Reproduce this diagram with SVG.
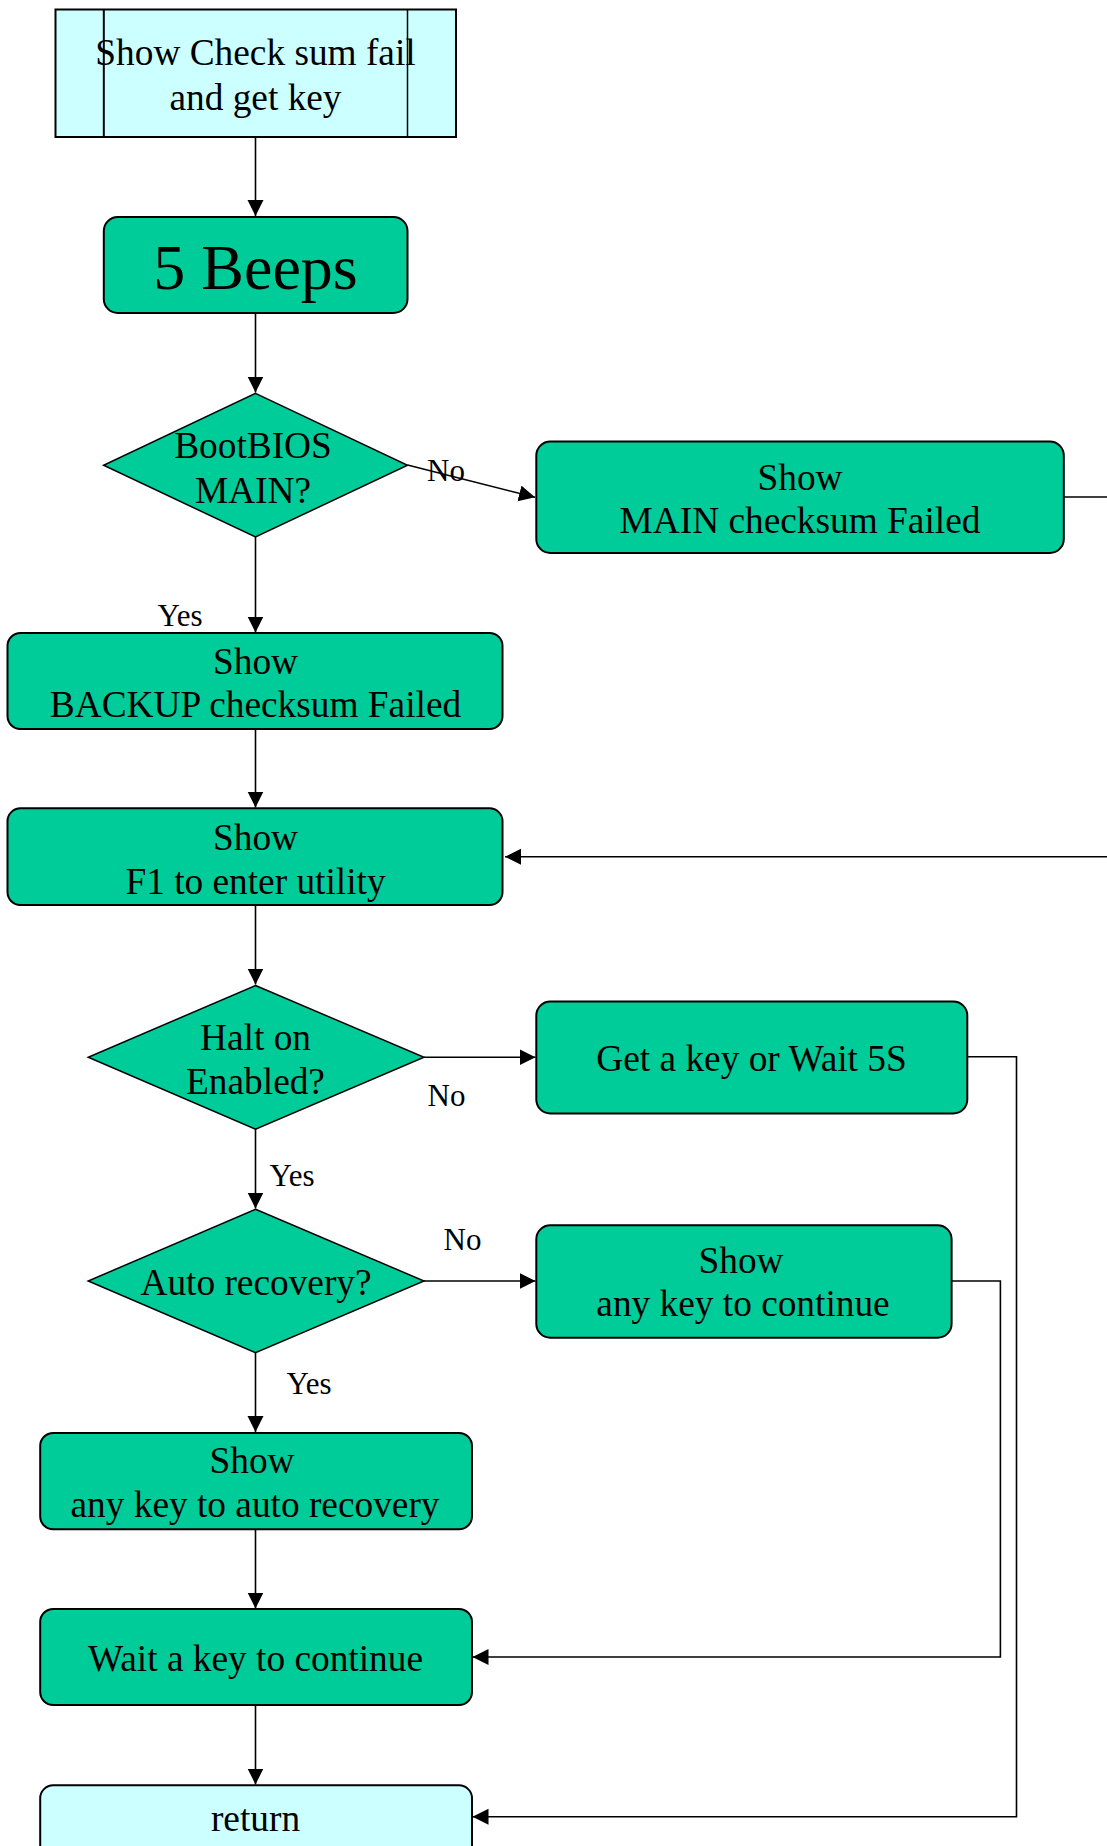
<svg xmlns="http://www.w3.org/2000/svg" width="1107" height="1846" viewBox="0 0 1107 1846">
<style>
.bg{fill:#ffffff}
.proc{fill:#00CC99;stroke:#000;stroke-width:2}
.term{fill:#CCFFFF;stroke:#000;stroke-width:2}
.dec{fill:#00CC99;stroke:#000;stroke-width:1.5}
.t{font-family:"Liberation Serif","Times New Roman",serif;font-size:37.33px;fill:#000;text-anchor:middle}
.big{font-size:64px}
.lbl{font-family:"Liberation Serif","Times New Roman",serif;font-size:31px;fill:#000;text-anchor:middle}
.c{fill:none;stroke:#000;stroke-width:1.6}
</style>
<defs>
<marker id="ah" markerUnits="userSpaceOnUse" markerWidth="17" markerHeight="17" refX="16" refY="8" orient="auto">
<path d="M0,0 L16,8 L0,16 z" fill="#000"/>
</marker>
</defs>
<rect class="bg" x="0" y="0" width="1107" height="1846"/>

<g id="connectors">
<path class="c" d="M255.5,137 V216" marker-end="url(#ah)"/>
<path class="c" d="M255.5,313 V392.5" marker-end="url(#ah)"/>
<path class="c" d="M407.5,465 L535,497.3" marker-end="url(#ah)"/>
<path class="c" d="M1064,497 H1130 V856.7 H505" marker-end="url(#ah)"/>
<path class="c" d="M255.5,537 V632.5" marker-end="url(#ah)"/>
<path class="c" d="M255.5,729 V807.5" marker-end="url(#ah)"/>
<path class="c" d="M255.5,905 V984.5" marker-end="url(#ah)"/>
<path class="c" d="M424,1057.3 H535.5" marker-end="url(#ah)"/>
<path class="c" d="M967.3,1056.7 H1016.5 V1816.7 H472.5" marker-end="url(#ah)"/>
<path class="c" d="M255.5,1129 V1208.5" marker-end="url(#ah)"/>
<path class="c" d="M424,1281 H535.5" marker-end="url(#ah)"/>
<path class="c" d="M951.6,1281 H1000.4 V1657 H472.5" marker-end="url(#ah)"/>
<path class="c" d="M255.5,1352.7 V1432" marker-end="url(#ah)"/>
<path class="c" d="M255.5,1529.3 V1608.5" marker-end="url(#ah)"/>
<path class="c" d="M255.5,1705 V1784.5" marker-end="url(#ah)"/>
<text class="lbl" x="446" y="481.2">No</text>
<text class="lbl" x="180" y="626.2">Yes</text>
<text class="lbl" x="446.5" y="1106.2">No</text>
<text class="lbl" x="292" y="1186.2">Yes</text>
<text class="lbl" x="462.5" y="1249.5">No</text>
<text class="lbl" x="309" y="1394.2">Yes</text>
</g>

<g id="n_checksum_fail">
<rect class="term" x="55.5" y="9.5" width="400.5" height="127.5"/>
<line x1="103.8" y1="9.5" x2="103.8" y2="137" stroke="#000" stroke-width="2"/>
<line x1="407.5" y1="9.5" x2="407.5" y2="137" stroke="#000" stroke-width="1.5"/>
<text class="t" x="255.5" y="64.5">Show Check sum fail</text>
<text class="t" x="255.5" y="109.5">and get key</text>
</g>

<g id="n_beeps">
<rect class="proc" x="103.8" y="217" width="303.7" height="96" rx="14"/>
<text class="t big" x="255.5" y="289">5 Beeps</text>
</g>

<g id="n_bootbios">
<polygon class="dec" points="255.5,393.4 407.5,465.2 255.5,537 103.6,465.2"/>
<text class="t" x="253" y="457.9">BootBIOS</text>
<text class="t" x="253" y="502.9">MAIN?</text>
</g>

<g id="n_main_failed">
<rect class="proc" x="536.3" y="441.5" width="527.5" height="111.5" rx="14"/>
<text class="t" x="800" y="489.5">Show</text>
<text class="t" x="800" y="532.9">MAIN checksum Failed</text>
</g>

<g id="n_backup_failed">
<rect class="proc" x="7.5" y="633" width="495" height="96" rx="13"/>
<text class="t" x="255.5" y="673.9">Show</text>
<text class="t" x="255.5" y="717.2">BACKUP checksum Failed</text>
</g>

<g id="n_f1">
<rect class="proc" x="7.5" y="808.3" width="495" height="96.7" rx="13"/>
<text class="t" x="255.5" y="849.5">Show</text>
<text class="t" x="255.5" y="893.9">F1 to enter utility</text>
</g>

<g id="n_halt">
<polygon class="dec" points="255.5,985.5 424,1057.3 255.5,1129.2 88.2,1057.3"/>
<text class="t" x="255.5" y="1049.5">Halt on</text>
<text class="t" x="255.5" y="1093.5">Enabled?</text>
</g>

<g id="n_getkey">
<rect class="proc" x="536.3" y="1001.5" width="431" height="112" rx="14"/>
<text class="t" x="751.5" y="1071.2">Get a key or Wait 5S</text>
</g>

<g id="n_auto">
<polygon class="dec" points="255.5,1209.3 424,1281 255.5,1352.7 88.2,1281"/>
<text class="t" x="256" y="1294.5">Auto recovery?</text>
</g>

<g id="n_anykey_continue">
<rect class="proc" x="536.3" y="1225.3" width="415.3" height="112.4" rx="14"/>
<text class="t" x="741" y="1272.9">Show</text>
<text class="t" x="743" y="1316.2">any key to continue</text>
</g>

<g id="n_anykey_auto">
<rect class="proc" x="40.2" y="1433" width="431.8" height="96.3" rx="13"/>
<text class="t" x="252" y="1472.9">Show</text>
<text class="t" x="255" y="1517.2">any key to auto recovery</text>
</g>

<g id="n_wait">
<rect class="proc" x="40.2" y="1609" width="431.8" height="96" rx="13"/>
<text class="t" x="255.5" y="1671.2">Wait a key to continue</text>
</g>

<g id="n_return">
<rect class="term" x="40.2" y="1785.3" width="431.8" height="96" rx="13"/>
<text class="t" x="255.5" y="1831.2">return</text>
</g>
</svg>
